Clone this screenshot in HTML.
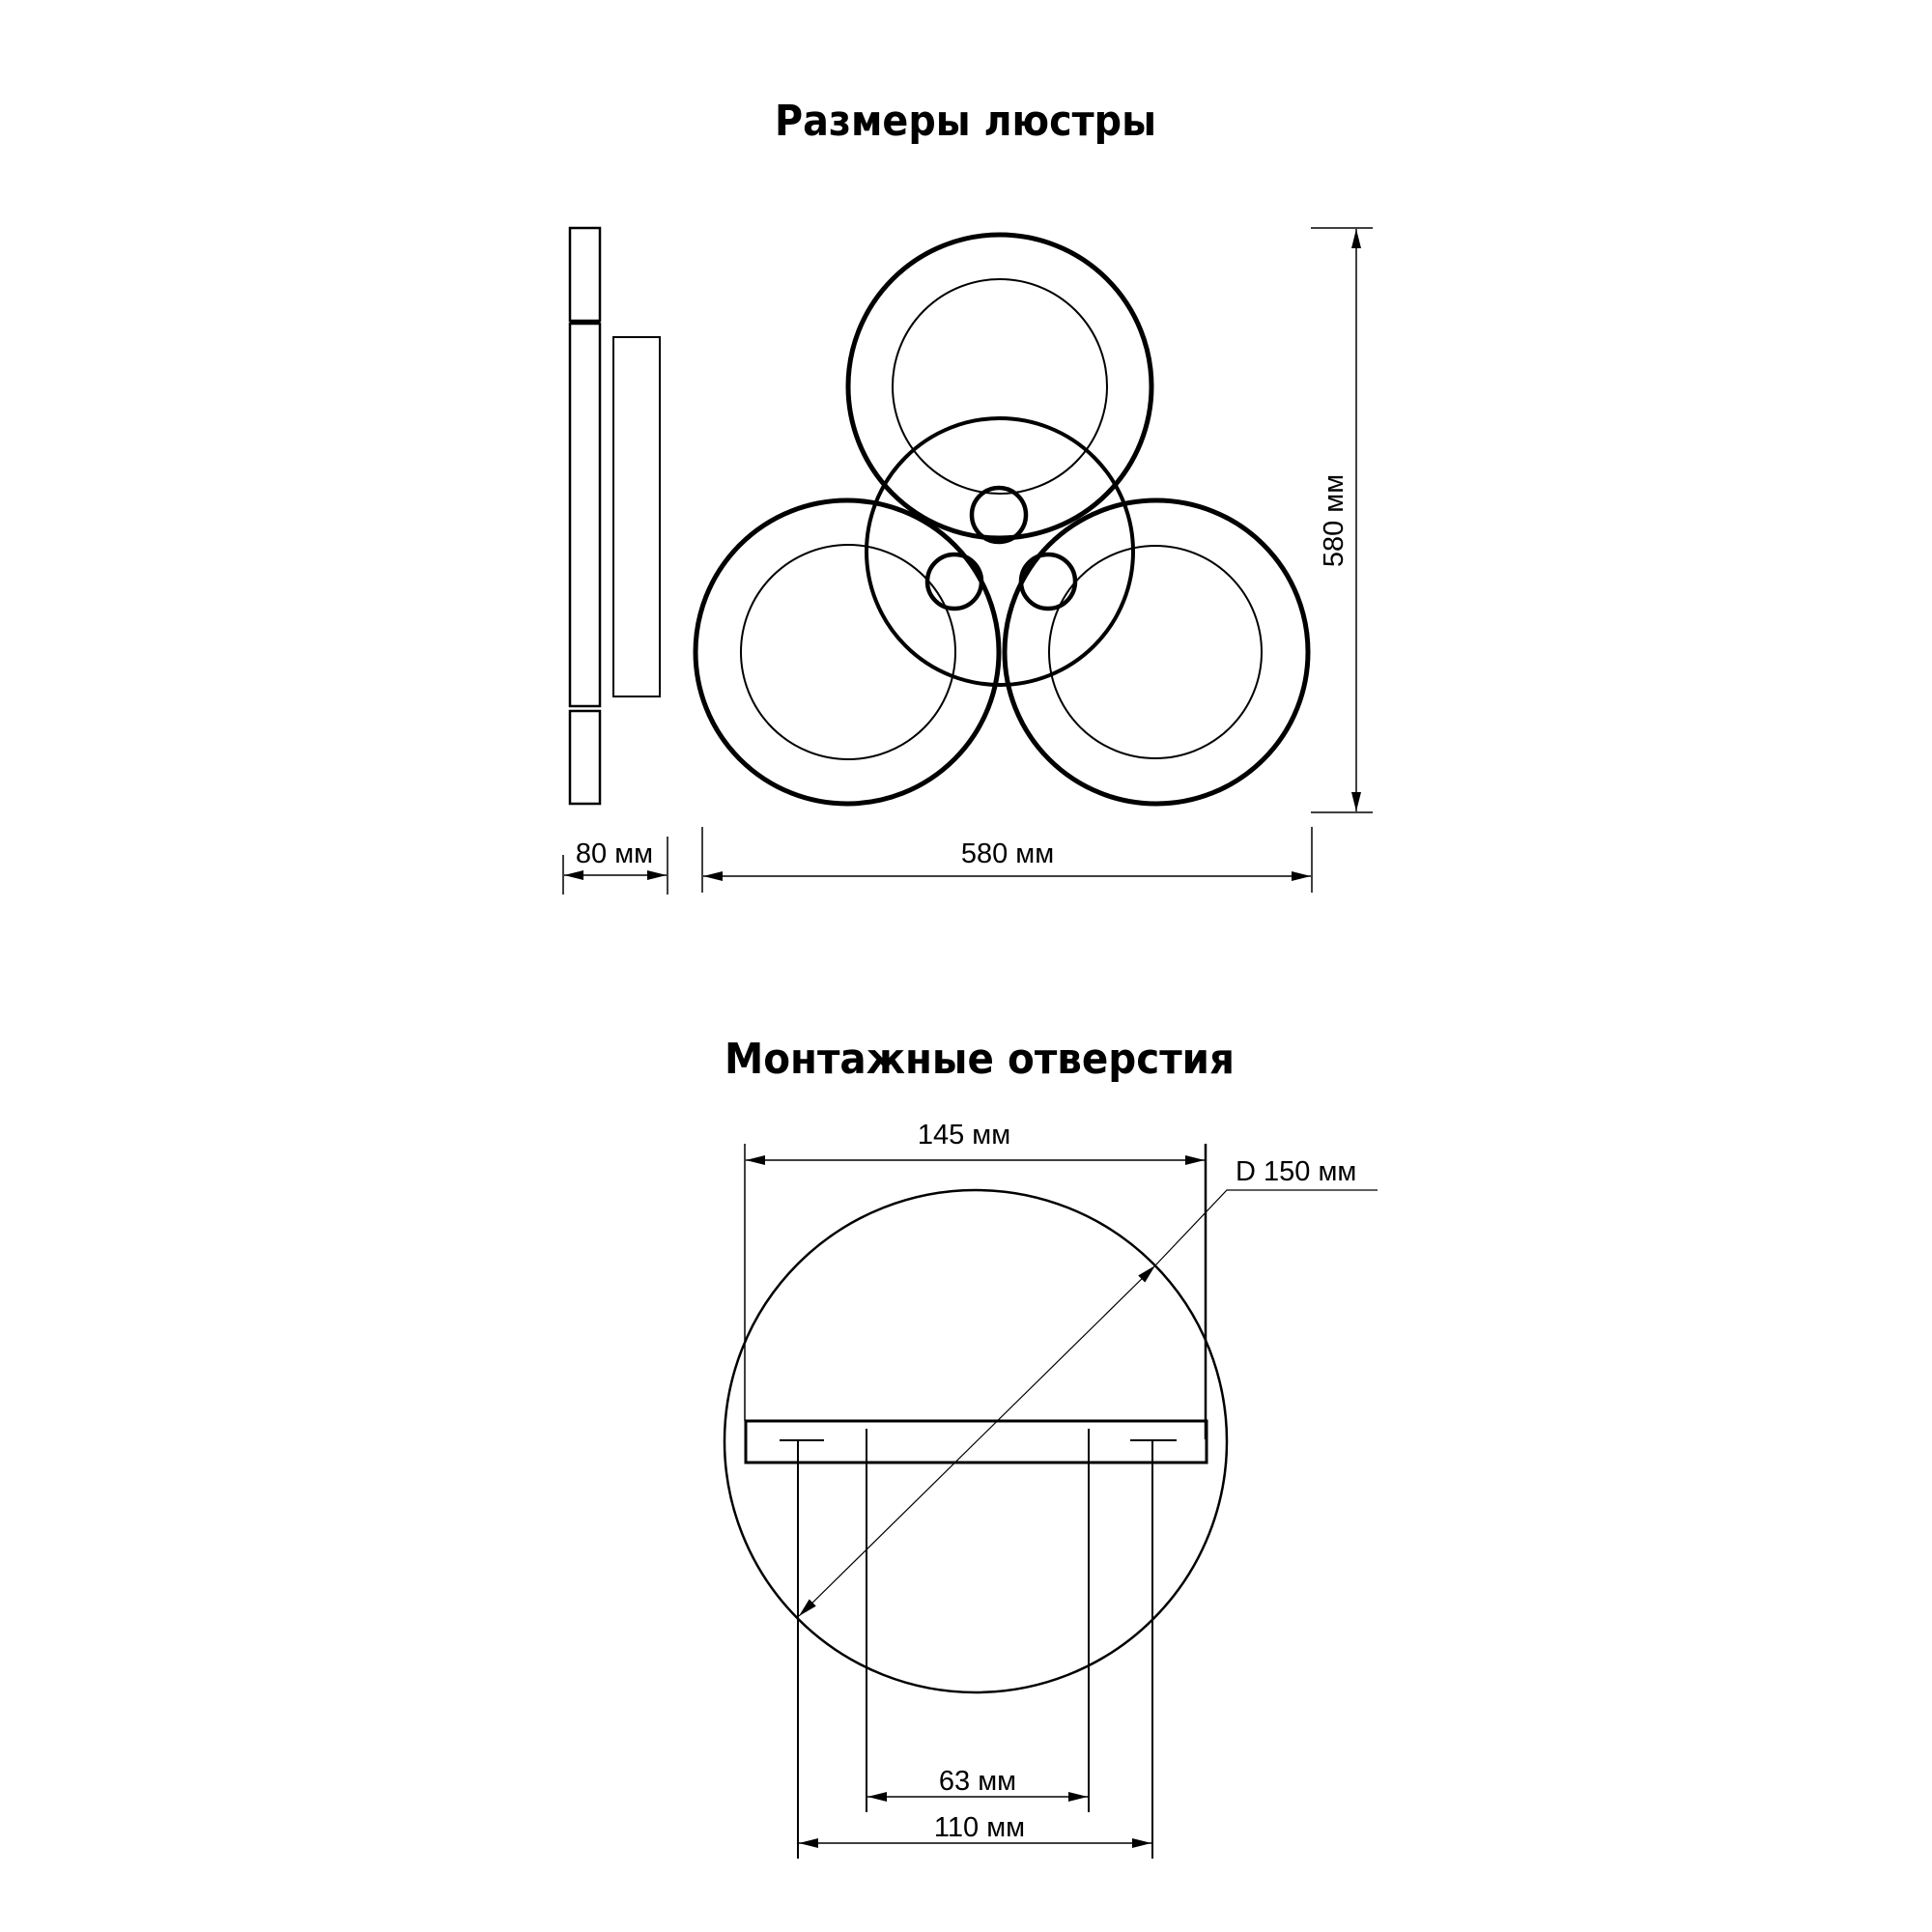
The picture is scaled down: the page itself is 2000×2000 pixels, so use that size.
<!DOCTYPE html>
<html><head><meta charset="utf-8"><style>
html,body{margin:0;padding:0;background:#fff;}
svg{display:block;}
text{font-family:"Liberation Sans","DejaVu Sans",sans-serif;fill:#000;}
.t{font-family:"DejaVu Sans","Liberation Sans",sans-serif;font-weight:bold;font-size:44px;}
.d{font-size:29px;}
</style></head><body>
<svg width="2000" height="2000" viewBox="0 0 2000 2000" xmlns="http://www.w3.org/2000/svg">
<defs>
<marker id="a" viewBox="0 0 20 10" refX="20" refY="5" markerWidth="20" markerHeight="10" markerUnits="userSpaceOnUse" orient="auto-start-reverse">
<path d="M0,0 L20,5 L0,10 z" fill="#000"/>
</marker>
</defs>
<text class="t" x="802" y="140" textLength="395" lengthAdjust="spacingAndGlyphs">Размеры люстры</text>
<text class="t" x="750" y="1111" textLength="528" lengthAdjust="spacingAndGlyphs">Монтажные отверстия</text>

<g fill="none" stroke="#000">
<rect x="590" y="236" width="31" height="96" stroke-width="2.5"/>
<line x1="590" y1="333" x2="621" y2="333" stroke-width="4"/>
<rect x="590" y="335" width="31" height="396" stroke-width="2.5"/>
<rect x="590" y="736" width="31" height="96" stroke-width="2.5"/>
<rect x="635" y="349" width="48" height="372" stroke-width="2"/>

<circle cx="1035" cy="400" r="157" stroke-width="5"/>
<circle cx="1035" cy="400" r="111" stroke-width="2"/>
<circle cx="877" cy="675" r="157" stroke-width="5"/>
<circle cx="878" cy="675" r="111" stroke-width="2"/>
<circle cx="1197" cy="675" r="157" stroke-width="5"/>
<circle cx="1196" cy="675" r="110" stroke-width="2"/>
<circle cx="1035" cy="571" r="138" stroke-width="4"/>
<circle cx="1034" cy="533" r="28" stroke-width="4.5"/>
<circle cx="988" cy="602" r="28" stroke-width="4.5"/>
<circle cx="1085" cy="602" r="28" stroke-width="4.5"/>

<line x1="1357" y1="236" x2="1421" y2="236" stroke-width="1.5"/>
<line x1="1357" y1="841" x2="1421" y2="841" stroke-width="1.5"/>
<line x1="1404" y1="237" x2="1404" y2="840" stroke-width="1.5" marker-start="url(#a)" marker-end="url(#a)"/>
<line x1="583" y1="885" x2="583" y2="926" stroke-width="1.5"/>
<line x1="691" y1="866" x2="691" y2="926" stroke-width="1.5"/>
<line x1="584" y1="906" x2="690" y2="906" stroke-width="1.5" marker-start="url(#a)" marker-end="url(#a)"/>
<line x1="727" y1="856" x2="727" y2="924" stroke-width="1.5"/>
<line x1="1358" y1="856" x2="1358" y2="924" stroke-width="1.5"/>
<line x1="728" y1="907" x2="1357" y2="907" stroke-width="1.5" marker-start="url(#a)" marker-end="url(#a)"/>

<circle cx="1010" cy="1492" r="260" stroke-width="2.5"/>
<line x1="771" y1="1184" x2="771" y2="1471" stroke-width="1.5"/>
<line x1="1248" y1="1184" x2="1248" y2="1490" stroke-width="2.5"/>
<line x1="772" y1="1201" x2="1247" y2="1201" stroke-width="1.5" marker-start="url(#a)" marker-end="url(#a)"/>
<rect x="772" y="1471" width="477" height="43" stroke-width="3"/>
<line x1="807" y1="1491" x2="853" y2="1491" stroke-width="2"/>
<line x1="1170" y1="1491" x2="1218" y2="1491" stroke-width="2"/>
<line x1="826" y1="1491" x2="826" y2="1924" stroke-width="2"/>
<line x1="1193" y1="1491" x2="1193" y2="1924" stroke-width="2"/>
<line x1="897" y1="1479" x2="897" y2="1876" stroke-width="2"/>
<line x1="1127" y1="1479" x2="1127" y2="1876" stroke-width="2"/>
<line x1="898" y1="1860" x2="1126" y2="1860" stroke-width="1.5" marker-start="url(#a)" marker-end="url(#a)"/>
<line x1="827" y1="1908" x2="1192" y2="1908" stroke-width="1.5" marker-start="url(#a)" marker-end="url(#a)"/>
<line x1="827" y1="1673" x2="1196" y2="1310" stroke-width="1.2" marker-start="url(#a)" marker-end="url(#a)"/>
<polyline points="1196,1310 1270,1232 1426,1232" stroke-width="1.2"/>
</g>

<text class="d" x="1381" y="539" text-anchor="middle" dominant-baseline="central" transform="rotate(-90 1381 539)">580 мм</text>
<text class="d" x="636" y="893" text-anchor="middle">80 мм</text>
<text class="d" x="1043" y="893" text-anchor="middle">580 мм</text>
<text class="d" x="998" y="1184" text-anchor="middle">145 мм</text>
<text class="d" x="1279" y="1222">D 150 мм</text>
<text class="d" x="1012" y="1853" text-anchor="middle">63 мм</text>
<text class="d" x="1014" y="1901" text-anchor="middle">110 мм</text>
</svg>
</body></html>
